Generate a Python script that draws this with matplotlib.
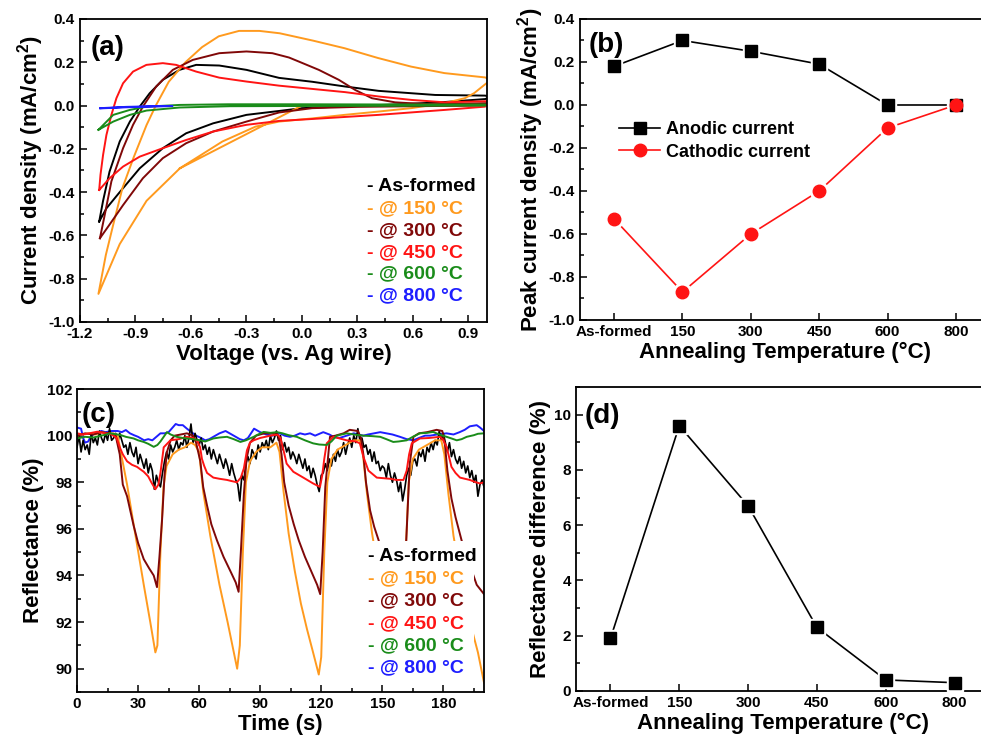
import numpy as np
import matplotlib
matplotlib.use("Agg")
import matplotlib.pyplot as plt
from matplotlib.ticker import MultipleLocator, FormatStrFormatter
from matplotlib.patches import Rectangle

plt.rcParams['font.family'] = ['Liberation Sans', 'DejaVu Sans']
plt.rcParams['font.weight'] = 'bold'
plt.rcParams['axes.labelweight'] = 'bold'
plt.rcParams['axes.unicode_minus'] = False
plt.rcParams['mathtext.fontset'] = 'custom'
plt.rcParams['mathtext.rm'] = 'Liberation Sans:bold'
plt.rcParams['mathtext.it'] = 'Liberation Sans:bold'
plt.rcParams['mathtext.bf'] = 'Liberation Sans:bold'

# ---- colours / labels ----
labels = ['- As-formed', '- @ 150 °C', '- @ 300 °C', '- @ 450 °C', '- @ 600 °C', '- @ 800 °C']
colors = ['#000000', '#FF9A1E', '#800808', '#FF1414', '#1A8C1A', '#1E1EFF']

# ---- (a) cyclic voltammetry loops ----
v_asformed = [-1.096, -1.075, -1.04, -0.985, -0.93, -0.877, -0.823, -0.752, -0.662, -0.572, -0.447, -0.30,
              -0.124, 0.055, 0.234, 0.414, 0.72, 0.99, 1.02,
              0.99, 0.75, 0.5, 0.25, 0.0, -0.124, -0.30, -0.48, -0.626, -0.752, -0.877, -0.985, -1.057, -1.096]
j_asformed = [-0.536, -0.44, -0.305, -0.166, -0.074, -0.005, 0.057, 0.119, 0.165, 0.188, 0.185, 0.165,
              0.128, 0.11, 0.088, 0.068, 0.049, 0.046, 0.04,
              0.03, 0.015, 0.005, -0.003, -0.012, -0.025, -0.043, -0.082, -0.128, -0.197, -0.29, -0.40, -0.475, -0.536]

v_150 = [0.0, -0.66, -0.84, -0.985, -1.10, -1.06, -1.02, -0.97, -0.91, -0.84, -0.79, -0.72, -0.63, -0.54,
         -0.45, -0.34, -0.23, -0.12, 0.06, 0.23, 0.41, 0.59, 0.77, 0.99, 1.02,
         1.0, 0.93, 0.88, 0.77, 0.59, 0.41, 0.23, 0.06, -0.124, -0.25, -0.43, -0.66]
j_150 = [0.0, -0.29, -0.44, -0.64, -0.87, -0.69, -0.55, -0.38, -0.24, -0.09, 0.0, 0.11, 0.20, 0.27,
         0.32, 0.345, 0.345, 0.334, 0.30, 0.265, 0.22, 0.18, 0.15, 0.13, 0.12,
         0.105, 0.057, 0.034, 0.011, -0.012, -0.028, -0.043, -0.059, -0.074, -0.097, -0.166, -0.29]

v_300 = [-1.092, -1.066, -1.03, -0.967, -0.913, -0.86, -0.788, -0.698, -0.59, -0.447, -0.30, -0.16, -0.07,
         -0.016, 0.091, 0.199, 0.288, 0.378, 0.503, 0.683, 0.99, 1.02,
         0.99, 0.6, 0.3, 0.055, -0.124, -0.30, -0.48, -0.626, -0.752, -0.86, -0.967, -1.04, -1.092]
j_300 = [-0.613, -0.505, -0.35, -0.197, -0.089, -0.005, 0.088, 0.165, 0.211, 0.242, 0.25, 0.242, 0.222,
         0.203, 0.165, 0.119, 0.072, 0.034, 0.015, 0.006, 0.011, 0.012,
         0.0, -0.003, -0.006, -0.012, -0.032, -0.074, -0.12, -0.174, -0.243, -0.336, -0.46, -0.55, -0.613]

v_450 = [-1.096, -1.089, -1.075, -1.057, -1.03, -1.003, -0.967, -0.913, -0.841, -0.752, -0.68, -0.572,
         -0.447, -0.30, -0.124, 0.055, 0.234, 0.414, 0.593, 0.773, 0.99, 1.02,
         0.99, 0.773, 0.414, 0.055, -0.124, -0.30, -0.48, -0.626, -0.752, -0.877, -0.967, -1.04, -1.096]
j_450 = [-0.39, -0.32, -0.228, -0.136, -0.043, 0.034, 0.103, 0.157, 0.188, 0.196, 0.188, 0.157,
         0.129, 0.111, 0.092, 0.077, 0.062, 0.042, 0.026, 0.015, 0.02, 0.02,
         -0.005, -0.02, -0.043, -0.062, -0.071, -0.089, -0.12, -0.159, -0.197, -0.236, -0.282, -0.336, -0.39]

v_600 = [-1.10, -1.02, -0.93, -0.84, -0.66, -0.4, 0.0, 0.5, 0.99,
         0.99, 0.5, 0.0, -0.39, -0.662, -0.84, -0.93, -1.02, -1.10]
j_600 = [-0.112, -0.043, -0.02, -0.005, 0.003, 0.006, 0.006, 0.005, 0.005,
         0.0, -0.001, -0.002, -0.003, -0.009, -0.023, -0.043, -0.074, -0.112]

v_800 = [-1.09, -0.95, -0.80, -0.70, -0.80, -0.95, -1.09]
j_800 = [-0.013, -0.008, -0.004, -0.002, -0.003, -0.006, -0.012]

# ---- (b) peak current density ----
temp_labels = ['As-formed', '150', '300', '450', '600', '800']
anodic = [0.18, 0.30, 0.25, 0.19, 0.00, 0.00]
cathodic = [-0.53, -0.87, -0.60, -0.40, -0.107, 0.00]

# ---- (c) reflectance vs time ----
t_asformed = np.arange(0, 201)
r_asformed = [99.5, 100.0, 99.3, 99.8, 99.4, 99.6, 99.2, 100.1, 99.7, 99.9,
              99.6, 100.2, 99.9, 99.7, 100.1, 99.8, 100.3, 99.8, 99.9, 100.1,
              99.7, 100.1, 99.8, 99.5, 99.6, 99.2, 99.7, 99.3, 99.1, 99.5,
              98.8, 99.2, 98.9, 98.6, 99.0, 98.4, 98.8, 98.5, 97.7, 98.3,
              98.0, 97.8, 98.4, 98.9, 99.3, 99.0, 99.6, 99.3, 99.5, 99.8,
              99.4, 99.7, 99.6, 100.0, 99.5, 99.9, 100.5, 99.7, 100.1, 99.8,
              99.6, 99.9, 99.4, 99.6, 99.2, 99.5, 99.0, 99.4, 99.1, 98.8,
              99.2, 98.9, 98.6, 99.0, 98.7, 98.3, 98.8, 98.4, 98.1, 97.9,
              97.2, 98.3, 98.1, 98.8, 99.1, 98.8, 99.4, 99.2, 99.0, 99.6,
              99.3, 99.7, 99.5, 99.8, 99.4, 100.0, 99.7, 99.9, 100.2, 99.8,
              100.0, 99.4, 99.7, 99.3, 99.5, 99.0, 99.3, 99.1, 98.8, 99.2,
              98.9, 98.6, 99.0, 98.5, 98.7, 98.2, 98.6, 98.3, 97.9, 97.6,
              98.3, 98.4, 98.8, 98.5, 99.0, 98.7, 99.2, 98.9, 99.4, 99.1,
              99.3, 99.7, 99.2, 99.6, 99.9, 99.5, 100.0, 99.7, 100.3, 99.8,
              99.9, 99.5, 99.6, 99.2, 99.4, 98.9, 99.3, 98.8, 98.9, 98.5,
              98.7, 98.6, 98.2, 98.8, 98.3, 98.0, 98.4, 98.1, 97.6, 98.0,
              97.2, 97.7, 98.3, 98.6, 98.3, 98.9, 99.0, 98.7, 99.3, 99.1,
              99.4, 98.9, 99.5, 99.3, 99.7, 99.4, 99.8, 99.6, 100.2, 99.8,
              100.1, 99.7, 99.3, 99.7, 99.1, 99.4, 99.0, 98.8, 99.1, 98.6,
              98.9, 98.4, 98.7, 98.2, 98.5, 98.0, 98.3, 97.4, 97.9, 98.1, 97.8]

t_150 = [0, 3, 6, 9, 12, 15, 18, 20, 21.5, 24.6, 28, 32.8, 36, 38.5, 39.5, 41, 42.5, 44, 47, 50, 53, 56, 58,
         60, 62, 65.5, 70, 74, 78.7, 80, 81.5, 83, 85, 88, 91, 95, 98,
         99.5, 101.5, 104, 107, 110, 113, 116, 118.8, 120, 121.5, 123, 125, 128, 132, 136, 139,
         140.5, 142.5, 145, 148, 151, 154, 157, 158.5, 160, 161.5, 163, 165, 168, 172, 176, 179,
         180.5, 182.5, 185, 188, 191, 194, 197, 200]
r_150 = [100.0, 100.05, 100.1, 100.05, 100.15, 100.1, 100.1, 100.0, 99.3, 97.9, 96.1, 93.6, 92.0, 90.7, 91.0,
         95.0, 97.8, 98.7, 99.2, 99.4, 99.5, 99.7, 99.6,
         99.3, 97.6, 95.7, 93.6, 92.0, 90.0, 91.0, 95.0, 98.0, 98.9, 99.3, 99.5, 99.5, 99.7,
         99.3, 97.6, 95.8, 94.2, 92.8, 91.7, 90.7, 89.75, 90.5, 95.0, 98.0, 99.0, 99.4, 99.6, 99.8, 99.8,
         99.2, 97.5, 95.8, 94.2, 92.8, 91.5, 90.4, 89.8, 91.0, 95.0, 98.0, 99.0, 99.4, 99.6, 99.8, 99.8,
         99.2, 97.5, 95.7, 94.2, 92.8, 91.7, 90.7, 89.4]

t_300 = [0, 4, 8, 12, 16, 19, 21, 22.5, 24.6, 27.8, 30, 32.8, 35.5, 37.7, 39.3, 40.5, 41.8, 43, 44.2, 46,
         48, 51, 54, 57, 58.5, 60.6, 62, 63.9, 66, 68.8, 72, 75.3, 78, 79.4, 80.5, 82, 83.3, 85, 88, 92,
         96, 99, 100.5, 101.8, 104, 106.5, 109, 112, 115, 118, 119.5, 120.7, 122, 124.3, 127, 131, 134,
         138, 139.5, 140.7, 142, 144, 146, 149, 152, 155, 158, 160, 161, 162.3, 163.5, 165.3, 168, 172,
         176.7, 179.5, 180.8, 182, 184, 186, 189, 192, 196.4, 200]
r_300 = [100.0, 100.1, 100.05, 100.15, 100.1, 100.0, 99.2, 97.9, 97.4, 96.15, 95.4, 94.7, 94.3, 94.0, 93.5,
         94.8, 96.4, 98.3, 99.3, 99.8, 100.0, 100.05, 100.1, 100.0, 99.7, 98.9, 97.8, 97.0, 96.2, 95.5,
         94.8, 94.2, 93.7, 93.3, 95.0, 97.5, 99.0, 99.7, 100.0, 100.1, 100.1, 100.0, 99.2, 98.0, 97.0,
         96.2, 95.5, 94.8, 94.2, 93.6, 93.2, 95.0, 97.8, 99.95, 100.0, 100.1, 100.25, 100.2, 99.9, 99.2,
         98.0, 96.8, 96.1, 95.3, 94.7, 94.2, 93.7, 93.3, 94.0, 96.5, 98.8, 99.95, 100.1, 100.15, 100.25,
         100.2, 99.6, 98.5, 97.3, 96.5, 95.5, 94.7, 93.6, 93.2]

t_450 = [0, 3, 6, 10, 14, 17, 19.5, 21, 22.5, 24.6, 27, 29.5, 32.8, 35, 36.5, 38.5, 40, 41, 42.6, 45.9, 50,
         54, 57, 59, 60.5, 61.4, 62.5, 63.9, 67, 70, 73.7, 76, 78.6, 80.5, 82, 83.5, 85, 86.8, 90, 95,
         98.5, 100, 101.4, 103, 106.3, 111.2, 116, 119.4, 120.5, 121.5, 122.7, 126, 132.5, 137, 139,
         140.7, 143.2, 147.3, 153.8, 157, 160.4, 162, 163.2, 164.5, 168.5, 173, 178.4, 180, 181.6, 184,
         186, 188.2, 193, 196, 198, 200]
r_450 = [100.1, 100.05, 100.1, 100.17, 100.1, 100.05, 99.9, 99.5, 99.2, 98.9, 98.75, 98.66, 98.45, 98.25,
         98.0, 97.7, 97.9, 98.4, 99.5, 99.8, 99.85, 99.95, 99.9, 99.8, 99.5, 99.0, 98.7, 98.4, 98.2,
         98.15, 98.1, 98.05, 98.0, 98.2, 98.6, 99.37, 99.7, 99.8, 99.9, 100.0, 100.05, 99.9, 99.4, 98.8,
         98.45, 98.2, 97.95, 97.8, 98.3, 99.0, 99.67, 99.95, 99.8, 99.75, 99.67, 99.1, 98.5, 98.2, 98.15,
         98.1, 98.1, 98.5, 99.2, 99.67, 99.88, 99.9, 99.95, 99.8, 99.52, 98.66, 98.4, 98.2, 98.1, 98.0,
         97.95, 98.0]

t_600 = [0, 4, 8, 12, 16.4, 21.3, 24, 27.8, 30, 32.8, 35, 37.7, 39.5, 41, 43, 44.2, 46, 49, 52, 54, 57,
         60.6, 63, 67, 70, 73.7, 77, 80.3, 83, 86.8, 89, 91.7, 95, 98.3, 101, 104, 108, 112, 116, 119,
         122.7, 125, 127.6, 132.5, 136, 140.7, 145, 149, 152, 155.4, 158, 162, 165, 168.5, 172, 175, 178,
         181.6, 184, 186.6, 189, 191.5, 195, 197, 200]
r_600 = [99.88, 99.95, 99.92, 100.0, 100.1, 100.03, 99.95, 99.88, 99.8, 99.73, 99.65, 99.52, 99.6, 99.75,
         100.0, 100.15, 100.05, 99.95, 99.9, 99.88, 99.85, 99.8, 99.75, 99.88, 99.92, 99.95, 99.85, 99.73,
         99.8, 99.95, 100.05, 100.16, 100.12, 100.15, 100.1, 100.02, 99.95, 99.8, 99.67, 99.62, 99.6,
         99.75, 100.0, 100.1, 100.05, 100.0, 99.98, 99.95, 99.85, 99.73, 99.75, 99.8, 99.95, 100.1,
         100.12, 100.16, 100.05, 99.95, 99.88, 99.8, 99.85, 99.95, 100.02, 100.08, 100.1]

t_800 = [0, 2, 3, 4, 5.5, 7, 9, 12, 14, 17, 20, 22, 24, 26, 28, 30, 33, 35, 37, 39, 41, 43, 45, 47, 48.5,
         50, 52, 54, 55.5, 57, 58.5, 61, 63, 65, 67, 70, 73, 75, 77, 80, 82, 84, 87, 90, 93, 96, 99.75,
         102, 104.7, 107, 109.6, 112, 114.5, 117, 121, 124, 126, 129, 132.5, 136, 140.7, 143, 146, 149,
         152, 155, 158.7, 162, 165.3, 168, 171, 173.5, 177, 181.6, 185, 188, 190.5, 193, 196.4, 198, 200]
r_800 = [100.35, 100.3, 99.9, 99.7, 99.75, 100.0, 100.1, 100.2, 100.15, 100.2, 100.2, 100.15, 100.24,
         100.1, 100.02, 99.95, 99.8, 99.85, 99.8, 99.95, 100.1, 100.1, 100.15, 100.35, 100.5, 100.45,
         100.45, 100.3, 100.2, 100.1, 100.0, 99.9, 99.8, 99.85, 99.95, 100.1, 100.2, 100.1, 100.0, 99.85,
         99.8, 99.9, 100.3, 100.15, 100.05, 100.0, 100.1, 100.0, 99.95, 100.0, 100.1, 100.05, 100.1,
         100.0, 100.15, 100.05, 99.95, 99.9, 100.0, 100.1, 100.0, 100.05, 100.1, 100.15, 100.1, 100.05,
         99.95, 99.85, 99.8, 99.9, 100.0, 100.0, 100.05, 100.1, 100.05, 100.15, 100.25, 100.4, 100.45,
         100.35, 100.2]

# ---- (d) reflectance difference ----
refl_diff = [1.9, 9.6, 6.7, 2.3, 0.4, 0.3]


def style_axes(ax):
    for s in ax.spines.values():
        s.set_linewidth(1.3)
    ax.tick_params(which='both', direction='in', top=False, right=False, width=1.1, labelsize=11)
    ax.tick_params(which='major', length=5)
    ax.tick_params(which='minor', length=3)


def text_legend(ax, x, y0, dy):
    for i, (lab, c) in enumerate(zip(labels, colors)):
        ax.text(x, y0 - i * dy, lab, color=c, fontsize=14, fontweight='bold',
                transform=ax.transAxes, va='center', ha='left', zorder=5)


fig = plt.figure(figsize=(9.81, 7.45), dpi=100)

# (a)
ax = fig.add_axes([0.0815, 0.5678, 0.4149, 0.4067])
cv = [(v_asformed, j_asformed), (v_150, j_150), (v_300, j_300),
      (v_450, j_450), (v_600, j_600), (v_800, j_800)]
for (v, j), c in zip(cv, colors):
    ax.plot(v, j, color=c, lw=1.4)
ax.set_xlim(-1.2, 1.0)
ax.set_ylim(-1.0, 0.4)
ax.xaxis.set_major_locator(MultipleLocator(0.3))
ax.xaxis.set_minor_locator(MultipleLocator(0.15))
ax.yaxis.set_major_locator(MultipleLocator(0.2))
ax.yaxis.set_minor_locator(MultipleLocator(0.1))
ax.xaxis.set_major_formatter(FormatStrFormatter('%.1f'))
ax.yaxis.set_major_formatter(FormatStrFormatter('%.1f'))
style_axes(ax)
ax.set_xlabel('Voltage (vs. Ag wire)', fontsize=16, labelpad=2)
ax.set_ylabel(r'Current density (mA/cm$^2$)', fontsize=16, labelpad=2)
ax.text(0.025, 0.905, '(a)', transform=ax.transAxes, fontsize=20, fontweight='bold', va='center')
text_legend(ax, 0.705, 0.446, 0.072)

# (b)
ax = fig.add_axes([0.5912, 0.5705, 0.418, 0.404])
xs = np.arange(len(temp_labels))
ax.plot(xs, anodic, color='black', lw=1.2, zorder=2)
ax.plot(xs, anodic, 's', ms=12, color='white', zorder=3)
ax.plot(xs, anodic, 's', ms=8, color='black', zorder=4)
ax.plot(xs, cathodic, color='#FF1414', lw=1.2, zorder=2)
ax.plot(xs, cathodic, 'o', ms=13, color='white', zorder=3)
ax.plot(xs, cathodic, 'o', ms=9, color='#FF1414', zorder=4)
h1, = ax.plot([], [], '-s', color='black', ms=8, lw=1.2)
h2, = ax.plot([], [], '-o', color='#FF1414', ms=9, lw=1.2)
ax.legend([h1, h2], ['Anodic current', 'Cathodic current'], loc='upper left',
          bbox_to_anchor=(0.095, 0.66), frameon=False, fontsize=13, handlelength=2.3,
          handletextpad=0.3, labelspacing=0.3, borderpad=0, borderaxespad=0)
ax.set_xlim(-0.5, 5.5)
ax.set_ylim(-1.0, 0.4)
ax.set_xticks(xs)
ax.set_xticklabels(temp_labels)
ax.yaxis.set_major_locator(MultipleLocator(0.2))
ax.yaxis.set_minor_locator(MultipleLocator(0.1))
ax.yaxis.set_major_formatter(FormatStrFormatter('%.1f'))
style_axes(ax)
ax.set_xlabel('Annealing Temperature (°C)', fontsize=16, labelpad=2)
ax.set_ylabel(r'Peak current density (mA/cm$^2$)', fontsize=16, labelpad=2)
ax.text(0.02, 0.915, '(b)', transform=ax.transAxes, fontsize=20, fontweight='bold', va='center')

# (c)
ax = fig.add_axes([0.0785, 0.0711, 0.4149, 0.4067])
series = [(t_asformed, r_asformed), (t_150, r_150), (t_300, r_300),
          (t_450, r_450), (t_600, r_600), (t_800, r_800)]
order = [5, 0, 1, 2, 3, 4]
for i in order:
    t, r = series[i]
    ax.plot(t, r, color=colors[i], lw=1.4 if i else 1.2, zorder=2)
ax.add_patch(Rectangle((0.725, 0.03), 0.25, 0.47, transform=ax.transAxes,
                       facecolor='white', edgecolor='none', zorder=4))
ax.set_xlim(0, 200)
ax.set_ylim(89, 102)
ax.xaxis.set_major_locator(MultipleLocator(30))
ax.xaxis.set_minor_locator(MultipleLocator(15))
ax.yaxis.set_major_locator(MultipleLocator(2))
ax.yaxis.set_minor_locator(MultipleLocator(1))
style_axes(ax)
ax.set_xlabel('Time (s)', fontsize=16, labelpad=2)
ax.set_ylabel('Reflectance (%)', fontsize=16, labelpad=2)
ax.text(0.012, 0.915, '(c)', transform=ax.transAxes, fontsize=20, fontweight='bold', va='center', zorder=1)
text_legend(ax, 0.715, 0.446, 0.073)

# (d)
ax = fig.add_axes([0.5872, 0.0725, 0.421, 0.408])
ax.plot(xs, refl_diff, color='black', lw=1.2, zorder=2)
ax.plot(xs, refl_diff, 's', ms=12, color='white', zorder=3)
ax.plot(xs, refl_diff, 's', ms=8, color='black', zorder=4)
ax.set_xlim(-0.5, 5.5)
ax.set_ylim(0, 11)
ax.set_xticks(xs)
ax.set_xticklabels(temp_labels)
ax.yaxis.set_major_locator(MultipleLocator(2))
ax.yaxis.set_minor_locator(MultipleLocator(1))
style_axes(ax)
ax.set_xlabel('Annealing Temperature (°C)', fontsize=16, labelpad=2)
ax.set_ylabel('Reflectance difference (%)', fontsize=16, labelpad=2)
ax.text(0.02, 0.905, '(d)', transform=ax.transAxes, fontsize=20, fontweight='bold', va='center')

fig.savefig('out.png', dpi=100)
